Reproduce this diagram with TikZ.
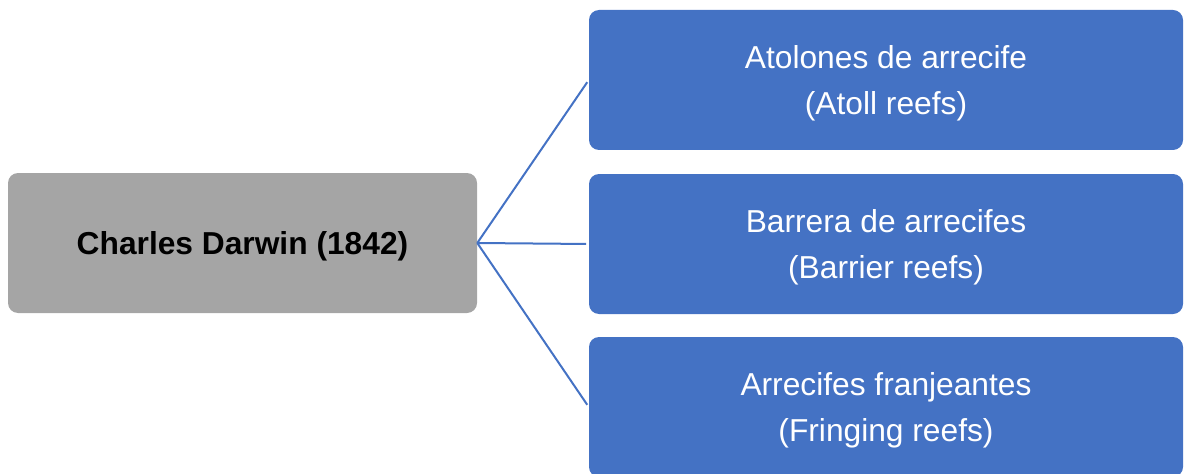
\documentclass[tikz,border=0pt]{standalone}
\usepackage{fontspec}
\setmainfont{Liberation Sans}
\usepackage{xcolor}
\usetikzlibrary{positioning}
\definecolor{reefblue}{HTML}{4472C4}
\definecolor{darwingray}{HTML}{A5A5A5}
\tikzset{
  link/.style={draw=reefblue,line width=1.5pt,shorten >=2pt},
  reef/.style={fill=reefblue,rounded corners=7.5pt,minimum width=445.5pt,minimum height=105pt,
               align=center,text=white,font=\fontsize{23.8}{34.5}\selectfont,inner sep=0pt,text depth=0pt},
  author/.style={fill=darwingray,rounded corners=7.5pt,minimum width=351.75pt,minimum height=105pt,
                 align=center,text=black,font=\fontsize{23.8}{34.5}\selectfont\bfseries,inner sep=0pt,text depth=0pt},
}
\begin{document}
\begin{tikzpicture}[x=0.75pt,y=-0.75pt]
  \useasboundingbox (0,0) rectangle (1184,474);
  \node[author] (darwin) at (242.5,243) {Charles Darwin (1842)};
  \node[reef] (atoll) at (886,80) {Atolones de arrecife\\(Atoll reefs)};
  \node[reef] (barrier) at (886,244) {Barrera de arrecifes\\(Barrier reefs)};
  \node[reef] (fringing) at (886,407) {Arrecifes franjeantes\\(Fringing reefs)};
  \draw[link] (darwin.east) -- (atoll.west);
  \draw[link] (darwin.east) -- (barrier.west);
  \draw[link] (darwin.east) -- (fringing.west);
\end{tikzpicture}
\end{document}
